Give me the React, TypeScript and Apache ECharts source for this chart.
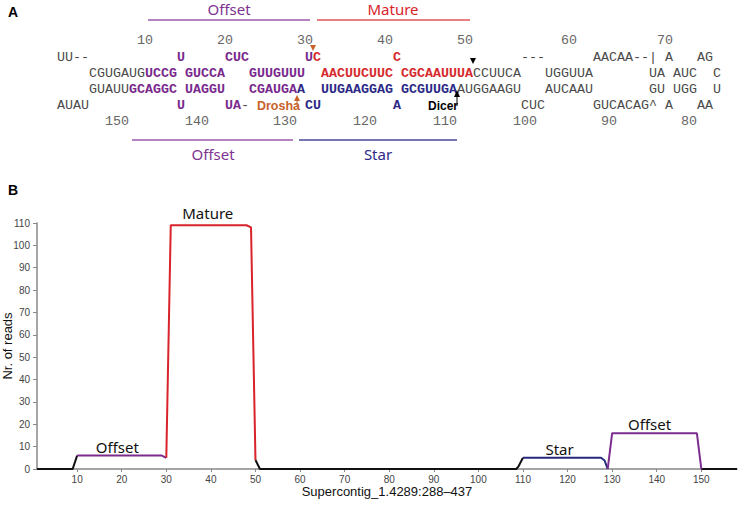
import React, { useEffect, useRef } from "react";
import * as echarts from "echarts";

// ---------- Panel B data ----------
const positions = [1, 9, 10, 29, 30, 31, 48, 49, 50, 51, 108.5, 109, 110, 127.5, 128.3, 129, 130, 149, 150, 158];
const reads = [0, 0, 6, 6, 5, 109, 109, 108, 4, 0, 0, 1.2, 5, 5, 3.8, 0, 16, 16, 0, 0];

const segments = [
  { from: 1, to: 10, region: "none" },
  { from: 10, to: 30, region: "offset" },
  { from: 30, to: 50, region: "mature" },
  { from: 50, to: 110, region: "none" },
  { from: 110, to: 129, region: "star" },
  { from: 129, to: 150, region: "offset" },
  { from: 150, to: 158, region: "none" },
];

const annotations = [
  { label: "Offset", position: 19, reads: 6, lift: 1 },
  { label: "Mature", position: 39.3, reads: 109, lift: 4 },
  { label: "Star", position: 118.2, reads: 5, lift: 1 },
  { label: "Offset", position: 138.4, reads: 16, lift: 1 },
];

const xTickLabels = [10, 20, 30, 40, 50, 60, 70, 80, 90, 100, 110, 120, 130, 140, 150];
const xTitle = "Supercontig_1.4289:288\u2013437";
const yTitle = "Nr. of reads";

// ---------- Panel A data (column, text, style) ----------
const topNumbers: [number, string][] = [[10, "10"], [20, "20"], [30, "30"], [40, "40"], [50, "50"], [63, "60"], [75, "70"]];
const bottomNumbers: [number, string][] = [[6, "150"], [16, "140"], [27, "130"], [37, "120"], [47, "110"], [57, "100"], [68, "90"], [78, "80"]];

const seqRow1: [number, string, string][] = [
  [0, "UU--", "g"], [15, "U", "P"], [21, "CUC", "P"], [31, "U", "P"], [32, "C", "R"], [42, "C", "R"],
  [58, "---", "g"], [67, "AACAA--|", "g"], [76, "A", "g"], [80, "AG", "g"],
];
const seqRow2: [number, string, string][] = [
  [4, "CGUGAUG", "g"], [11, "UCCG", "P"], [16, "GUCCA", "P"], [24, "GUUGUUU", "P"], [33, "AACUUCUUC", "R"],
  [43, "CGCAAUUUA", "R"], [52, "CCUUCA", "g"], [61, "UGGUUA", "g"], [74, "UA AUC", "g"], [82, "C", "g"],
];
const seqRow3: [number, string, string][] = [
  [4, "GUAUU", "g"], [9, "GCAGGC", "P"], [16, "UAGGU", "P"], [24, "CGAUGA", "P"], [30, "A", "N"],
  [33, "UUGAAGGAG", "N"], [43, "GCGUUGA", "N"], [50, "AUGGAAGU", "g"], [61, "AUCAAU", "g"], [74, "GU UGG", "g"], [82, "U", "g"],
];
const seqRow4: [number, string, string][] = [
  [0, "AUAU", "g"], [15, "U", "P"], [21, "UA", "P"], [23, "-", "g"], [31, "CU", "N"], [42, "A", "N"],
  [58, "CUC", "g"], [67, "GUCACAG^", "g"], [76, "A", "g"], [80, "AA", "g"],
];

const lineColors: Record<string, string> = {
  none: "#111111",
  offset: "#7B2C8E",
  mature: "#D8232A",
  star: "#262A7C",
};
const seqColors: Record<string, string> = {
  g: "#4a4a4a",
  P: "#7A2A8C",
  R: "#D62A2E",
  N: "#2C2A86",
};

export default function App() {
  const ref = useRef<HTMLDivElement>(null);
  useEffect(() => {
    if (!ref.current) return;
    const chart = echarts.init(ref.current, null, { renderer: "svg" });

    const X0 = 57;
    const CW = 8;
    const colX = (c: number) => X0 + c * CW;
    const mono = "Liberation Mono";
    const sans = "Noto Sans";

    const txt = (x: number, y: number, text: string, fill: string, o: any = {}) => ({
      type: "text",
      x,
      y,
      silent: true,
      style: {
        text,
        fill,
        fontSize: o.fontSize ?? 13.33,
        fontFamily: o.fontFamily ?? mono,
        fontWeight: o.fontWeight ?? "normal",
        align: o.align ?? "left",
        textAlign: o.align ?? "left",
        verticalAlign: "middle",
        textVerticalAlign: "middle",
      },
    });

    const graphics: any[] = [];
    // Panel letters
    graphics.push(txt(8, 12, "A", "#000", { fontFamily: "Liberation Sans", fontWeight: "bold", fontSize: 14 }));
    graphics.push(txt(8, 190, "B", "#000", { fontFamily: "Liberation Sans", fontWeight: "bold", fontSize: 14 }));

    // region labels and bars
    graphics.push(txt(229, 9, "Offset", "#7E3391", { fontFamily: sans, fontSize: 15, align: "center" }));
    graphics.push(txt(393, 9, "Mature", "#D8232A", { fontFamily: sans, fontSize: 15, align: "center" }));
    graphics.push({ type: "line", silent: true, shape: { x1: 148, y1: 20, x2: 310, y2: 20 }, style: { stroke: "#9C5AAE", lineWidth: 1.5 } });
    graphics.push({ type: "line", silent: true, shape: { x1: 317, y1: 20, x2: 470, y2: 20 }, style: { stroke: "#E0555A", lineWidth: 1.5 } });
    graphics.push({ type: "line", silent: true, shape: { x1: 132, y1: 140, x2: 293, y2: 140 }, style: { stroke: "#9C5AAE", lineWidth: 1.5 } });
    graphics.push({ type: "line", silent: true, shape: { x1: 299, y1: 140, x2: 457, y2: 140 }, style: { stroke: "#4A4799", lineWidth: 1.5 } });
    graphics.push(txt(213, 154, "Offset", "#7E3391", { fontFamily: sans, fontSize: 15, align: "center" }));
    graphics.push(txt(378, 154, "Star", "#2C2A86", { fontFamily: sans, fontSize: 15, align: "center" }));

    // numbering
    topNumbers.forEach(([c, t]) => graphics.push(txt(colX(c), 40, t, "#666")));
    bottomNumbers.forEach(([c, t]) => graphics.push(txt(colX(c), 121, t, "#666")));

    const rows: [number, [number, string, string][]][] = [
      [57, seqRow1],
      [73, seqRow2],
      [89, seqRow3],
      [105, seqRow4],
    ];
    rows.forEach(([y, toks]) => {
      toks.forEach(([c, t, s]) => {
        graphics.push(
          txt(colX(c), y, t, seqColors[s], { fontWeight: s === "g" ? "normal" : "bold" })
        );
      });
    });

    // cleavage arrows
    const dx = colX(32), dBx = colX(52), uDx = colX(30), uDicer = colX(50);
    graphics.push({ type: "polygon", silent: true, shape: { points: [[dx - 3, 45], [dx + 3, 45], [dx, 51]] }, style: { fill: "#C8622A" } });
    graphics.push({ type: "polygon", silent: true, shape: { points: [[dBx - 3, 58], [dBx + 3, 58], [dBx, 64]] }, style: { fill: "#000" } });
    graphics.push({ type: "polygon", silent: true, shape: { points: [[uDx - 3, 101], [uDx + 3, 101], [uDx, 95]] }, style: { fill: "#C8622A" } });
    graphics.push({ type: "line", silent: true, shape: { x1: uDx, y1: 100, x2: uDx, y2: 106 }, style: { stroke: "#C8622A", lineWidth: 1 } });
    graphics.push({ type: "polygon", silent: true, shape: { points: [[uDicer - 3, 97], [uDicer + 3, 97], [uDicer, 90]] }, style: { fill: "#000" } });
    graphics.push({ type: "line", silent: true, shape: { x1: uDicer, y1: 96, x2: uDicer, y2: 106 }, style: { stroke: "#000", lineWidth: 1 } });
    graphics.push(txt(uDx + 3, 106, "Drosha", "#C8622A", { fontFamily: "Liberation Sans", fontWeight: "bold", fontSize: 12.5, align: "right" }));
    graphics.push(txt(uDicer + 1, 106, "Dicer", "#000", { fontFamily: "Liberation Sans", fontWeight: "bold", fontSize: 12, align: "right" }));

    const series: any[] = segments.map((seg) => {
      const data: [number, number][] = [];
      positions.forEach((p, k) => {
        if (p >= seg.from && p <= seg.to) data.push([p, reads[k]]);
      });
      return {
        type: "line",
        data,
        showSymbol: false,
        symbol: "none",
        z: seg.region === "none" ? 2 : 3,
        lineStyle: { color: lineColors[seg.region], width: 2 },
        silent: true,
      };
    });
    series.push({
      type: "line",
      data: [],
      silent: true,
      markPoint: {
        symbol: "circle",
        symbolSize: 1,
        itemStyle: { color: "rgba(0,0,0,0)" },
        label: {
          show: true,
          position: "top",
          distance: 1,
          color: "#111",
          fontSize: 15,
          fontFamily: sans,
          formatter: (p: any) => p.name,
        },
        data: annotations.map((a) => ({
          name: a.label,
          coord: [a.position, a.reads],
          label: { distance: a.lift },
        })),
      },
    });

    chart.setOption({
      animation: false,
      backgroundColor: "#fff",
      grid: { left: 37, right: 1, top: 223, bottom: 36, containLabel: false, outerBoundsMode: "none" },
      xAxis: {
        type: "value",
        min: 1,
        max: 158,
        name: xTitle,
        nameLocation: "middle",
        nameGap: 16,
        nameMoveOverlap: false,
        nameTextStyle: { fontSize: 13, color: "#111", fontFamily: "Liberation Sans" },
        axisLine: { show: true, lineStyle: { color: "#888", width: 1.5 } },
        axisTick: { show: true, length: 3, customValues: xTickLabels, lineStyle: { color: "#888" } },
        axisLabel: { customValues: xTickLabels, fontSize: 10, color: "#444", margin: 5, fontFamily: "Liberation Sans" },
        splitLine: { show: false },
      },
      yAxis: {
        type: "value",
        min: 0,
        max: 110,
        interval: 10,
        name: yTitle,
        nameLocation: "middle",
        nameGap: 23,
        nameMoveOverlap: false,
        nameTextStyle: { fontSize: 13, color: "#111", fontFamily: "Liberation Sans" },
        axisLine: { show: true, lineStyle: { color: "#888", width: 1.5 } },
        axisTick: { show: true, length: 4, lineStyle: { color: "#888" } },
        axisLabel: { fontSize: 10, color: "#444", margin: 7, fontFamily: "Liberation Sans" },
        splitLine: { show: false },
      },
      series,
      graphic: { elements: graphics },
    });

    return () => chart.dispose();
  }, []);

  return (
    <div
      ref={ref}
      style={{ position: "fixed", left: 0, top: 0, width: 738, height: 505, background: "#fff" }}
    />
  );
}
